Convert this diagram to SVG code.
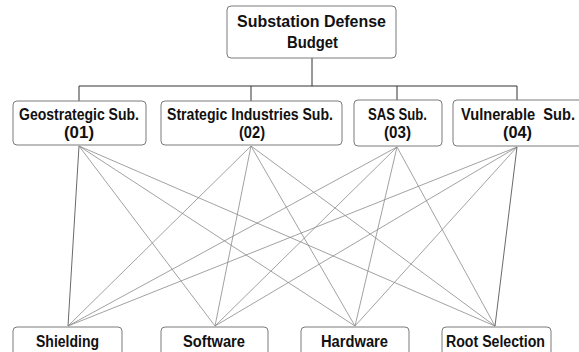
<svg xmlns="http://www.w3.org/2000/svg" width="579" height="352" viewBox="0 0 579 352">
<style>
.box{fill:#fff;stroke:#7a7a7a;stroke-width:1}
.t{font-family:"Liberation Sans",Arial,sans-serif;font-weight:bold;font-size:16px;fill:#111;text-anchor:middle}
.tree{fill:none;stroke:#333;stroke-width:1}
.lk{fill:none;stroke:#8a8a8a;stroke-width:0.8}
</style>
<rect width="579" height="352" fill="#fff"/>
<g id="connectors">
<path class="tree" d="M312 58V86M79 86H517M79 86V101M251 86V101M397 86V100M517 86V100"/>
<g class="lk">
<line x1="79" y1="146" x2="68" y2="326" stroke="#444"/>
<line x1="79" y1="146" x2="215" y2="326"/>
<line x1="79" y1="146" x2="355" y2="326"/>
<line x1="79" y1="146" x2="495" y2="326"/>
<line x1="251" y1="146" x2="68" y2="326"/>
<line x1="251" y1="146" x2="215" y2="326"/>
<line x1="251" y1="146" x2="355" y2="326"/>
<line x1="251" y1="146" x2="495" y2="326"/>
<line x1="397" y1="147" x2="68" y2="326"/>
<line x1="397" y1="147" x2="215" y2="326"/>
<line x1="397" y1="147" x2="355" y2="326"/>
<line x1="397" y1="147" x2="495" y2="326"/>
<line x1="517" y1="147" x2="68" y2="326"/>
<line x1="517" y1="147" x2="215" y2="326"/>
<line x1="517" y1="147" x2="355" y2="326"/>
<line x1="517" y1="147" x2="495" y2="326" stroke="#444"/>
</g>
</g>
<g id="budget">
<rect class="box" x="227" y="6" width="169" height="52" rx="4"/>
<text class="t" x="311.5" y="27" textLength="149" lengthAdjust="spacingAndGlyphs">Substation Defense</text>
<text class="t" x="312.5" y="48" textLength="51" lengthAdjust="spacingAndGlyphs">Budget</text>
</g>
<g id="geo">
<rect class="box" x="13" y="101" width="133" height="44" rx="4"/>
<text class="t" x="79" y="120" textLength="120" lengthAdjust="spacingAndGlyphs">Geostrategic Sub.</text>
<text class="t" x="79" y="138" textLength="30" lengthAdjust="spacingAndGlyphs">(01)</text>
</g>
<g id="strategic">
<rect class="box" x="161" y="101" width="181" height="44" rx="4"/>
<text class="t" x="250" y="120" textLength="166" lengthAdjust="spacingAndGlyphs">Strategic Industries Sub.</text>
<text class="t" x="252" y="138" textLength="26" lengthAdjust="spacingAndGlyphs">(02)</text>
</g>
<g id="sas">
<rect class="box" x="354" y="100" width="88" height="46" rx="4"/>
<text class="t" x="397.5" y="120" textLength="59" lengthAdjust="spacingAndGlyphs">SAS Sub.</text>
<text class="t" x="397.5" y="138" textLength="27" lengthAdjust="spacingAndGlyphs">(03)</text>
</g>
<g id="vulnerable">
<rect class="box" x="453" y="100" width="130" height="46" rx="4"/>
<text class="t" x="518" y="120" textLength="114" lengthAdjust="spacingAndGlyphs" xml:space="preserve">Vulnerable  Sub.</text>
<text class="t" x="517.5" y="138" textLength="29" lengthAdjust="spacingAndGlyphs">(04)</text>
</g>
<g id="shielding">
<rect class="box" x="13" y="327" width="109" height="32" rx="4"/>
<text class="t" x="67.5" y="347" textLength="63" lengthAdjust="spacingAndGlyphs">Shielding</text>
</g>
<g id="software">
<rect class="box" x="161" y="327" width="107" height="32" rx="4"/>
<text class="t" x="214" y="347" textLength="62" lengthAdjust="spacingAndGlyphs">Software</text>
</g>
<g id="hardware">
<rect class="box" x="301" y="327" width="108" height="32" rx="4"/>
<text class="t" x="354.5" y="347" textLength="67" lengthAdjust="spacingAndGlyphs">Hardware</text>
</g>
<g id="root">
<rect class="box" x="442" y="327" width="109" height="32" rx="4"/>
<text class="t" x="495.5" y="347" textLength="99" lengthAdjust="spacingAndGlyphs">Root Selection</text>
</g>
</svg>
